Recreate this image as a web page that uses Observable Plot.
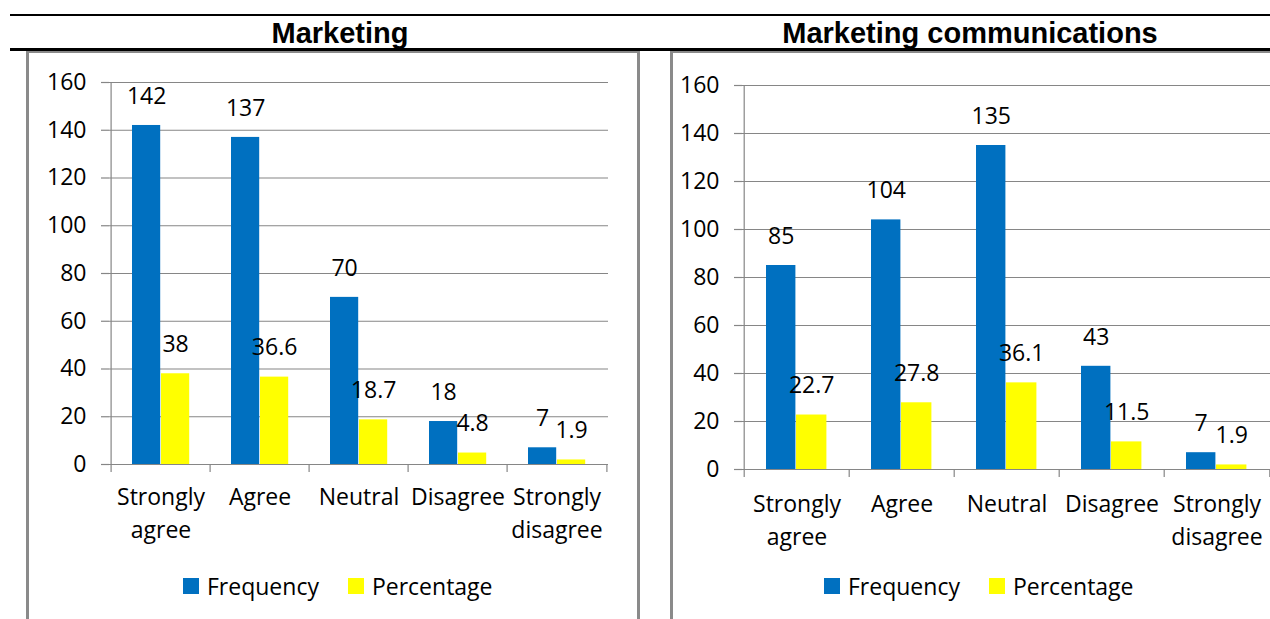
<!DOCTYPE html>
<html><head><meta charset="utf-8">
<script src="https://cdn.jsdelivr.net/npm/d3@7"></script>
<script src="https://cdn.jsdelivr.net/npm/@observablehq/plot@0.6"></script>
<style>
html,body{margin:0;padding:0;background:#fff;}
#page{position:relative;width:1270px;height:619px;overflow:hidden;font-family:"Open Sans",sans-serif;background:#fff;}
.hline{position:absolute;background:#000;}
.vb{position:absolute;background:#8a8a8a;}
.title{position:absolute;top:17px;height:34px;line-height:36px;font:bold 29px "Liberation Sans",Arial,sans-serif;text-align:center;color:#000;}
.panel{position:absolute;top:0;}
.legend{position:absolute;display:flex;align-items:center;font-size:23px;color:#000;height:26px;white-space:nowrap;}
.sw{width:16px;height:16px;margin-right:8px;flex:none;}
.item{display:flex;align-items:center;}
</style></head><body><div id="page"></div>
<script>
const categories = ["Strongly agree","Agree","Neutral","Disagree","Strongly disagree"];
const categoryLabels = ["Strongly\nagree","Agree","Neutral","Disagree","Strongly\ndisagree"];
const series = ["Frequency","Percentage"];
const seriesColors = ["#0070C0","#FFFF00"];
const yTicks = [0,20,40,60,80,100,120,140,160];
const titles = ["Marketing","Marketing communications"];
const marketingFrequency = [142,137,70,18,7];
const marketingPercentage = [38,36.6,18.7,4.8,1.9];
const commsFrequency = [85,104,135,43,7];
const commsPercentage = [22.7,27.8,36.1,11.5,1.9];

const gridColor = "#868686";
const page = document.getElementById("page");

function panel(freq, pct, cfg) {
  const rows = categories.flatMap((c, i) => [
    {category: c, series: series[0], value: freq[i]},
    {category: c, series: series[1], value: pct[i]}
  ]);
  const bw = (cfg.width - cfg.ml - cfg.mr) / categories.length;
  const [off, w1, w2] = cfg.bars;
  const c1 = off + w1 / 2 - bw / 2, c2 = off + w1 + w2 / 2 - bw / 2;
  const s0 = rows.filter(d => d.series === series[0]);
  const s1 = rows.filter(d => d.series === series[1]);
  return Plot.plot({
    width: cfg.width, height: 619,
    marginLeft: cfg.ml, marginRight: cfg.mr, marginTop: cfg.mt, marginBottom: cfg.mb,
    x: {type: "band", domain: categories, paddingInner: 0, paddingOuter: 0, axis: null},
    y: {domain: [0, 160]},
    style: {fontFamily: "'Open Sans', sans-serif", fontSize: "23px", color: "#000", background: "transparent", overflow: "visible"},
    marks: [
      Plot.gridY({ticks: yTicks, stroke: gridColor, strokeOpacity: 1, strokeWidth: 1.2}),
      Plot.axisY({ticks: yTicks, tickSize: 8, tickPadding: 15, stroke: gridColor, strokeWidth: 1.2, label: null, fill: "#000"}),
      Plot.barY(s0, {x: "category", y: "value", fill: seriesColors[0], insetLeft: off, insetRight: bw - off - w1}),
      Plot.barY(s1, {x: "category", y: "value", fill: seriesColors[1], insetLeft: off + w1, insetRight: bw - off - w1 - w2}),
      Plot.ruleY([0], {stroke: gridColor, strokeWidth: 1.2}),
      Plot.ruleX([categories[0]], {x: d => d, y1: 160, y2: 0, insetBottom: -8, dx: -bw / 2, stroke: gridColor, strokeWidth: 1.2}),
      Plot.ruleX(categories.slice(1), {x: d => d, y1: 0, y2: 0, insetBottom: -8, dx: -bw / 2, stroke: gridColor, strokeWidth: 1.2}),
      Plot.ruleX(categories.slice(-1), {x: d => d, y1: 0, y2: 0, insetBottom: -8, dx: bw / 2, stroke: gridColor, strokeWidth: 1.2}),
      Plot.text(s0, {x: "category", y: "value", text: d => String(d.value), dx: c1, dy: -29, fill: "#000"}),
      Plot.text(s1, {x: "category", y: "value", text: d => String(d.value), dx: c2, dy: -29, fill: "#000"}),
      Plot.text(categories, {x: d => d, text: (d, i) => categoryLabels[i], frameAnchor: "bottom", lineAnchor: "top", dy: cfg.labelDy, lineHeight: 1.4, fill: "#000"})
    ]
  });
}

function add(el, cls, style) {
  const d = document.createElement("div");
  d.className = cls;
  Object.assign(d.style, style);
  page.appendChild(d);
  return d;
}

// Panels
const left = add(null, "panel", {left: "0px", width: "640px"});
left.appendChild(panel(marketingFrequency, marketingPercentage,
  {width: 640, ml: 109, mr: 32, mt: 82, mb: 155, bars: [21, 29, 29], labelDy: 18}));
const right = add(null, "panel", {left: "640px", width: "630px"});
right.appendChild(panel(commsFrequency, commsPercentage,
  {width: 630, ml: 102, mr: 0, mt: 85, mb: 150, bars: [22, 30, 31], labelDy: 20}));

// Table lines and panel borders
add(null, "hline", {left: "10px", top: "14px", width: "1260px", height: "2px"});
add(null, "hline", {left: "10px", top: "48px", width: "1260px", height: "3px"});
add(null, "vb", {left: "26px", top: "51px", width: "3px", height: "568px"});
add(null, "vb", {left: "26px", top: "51px", width: "614px", height: "2px"});
add(null, "vb", {left: "637px", top: "51px", width: "3px", height: "568px"});
add(null, "vb", {left: "670px", top: "51px", width: "3px", height: "568px"});
add(null, "vb", {left: "670px", top: "51px", width: "600px", height: "2px"});

// Titles
const t1 = add(null, "title", {left: "0px", width: "680px"}); t1.textContent = titles[0];
const t2 = add(null, "title", {left: "670px", width: "600px"}); t2.textContent = titles[1];

// Legends
function legend(x) {
  const lg = add(null, "legend", {left: x + "px", top: "573px"});
  series.forEach((s, i) => {
    const it = document.createElement("div");
    it.className = "item";
    if (i > 0) it.style.marginLeft = "29px";
    const sw = document.createElement("div");
    sw.className = "sw"; sw.style.background = seriesColors[i];
    const tx = document.createElement("span"); tx.textContent = s;
    it.appendChild(sw); it.appendChild(tx); lg.appendChild(it);
  });
}
legend(183);
legend(824);
</script></body></html>
